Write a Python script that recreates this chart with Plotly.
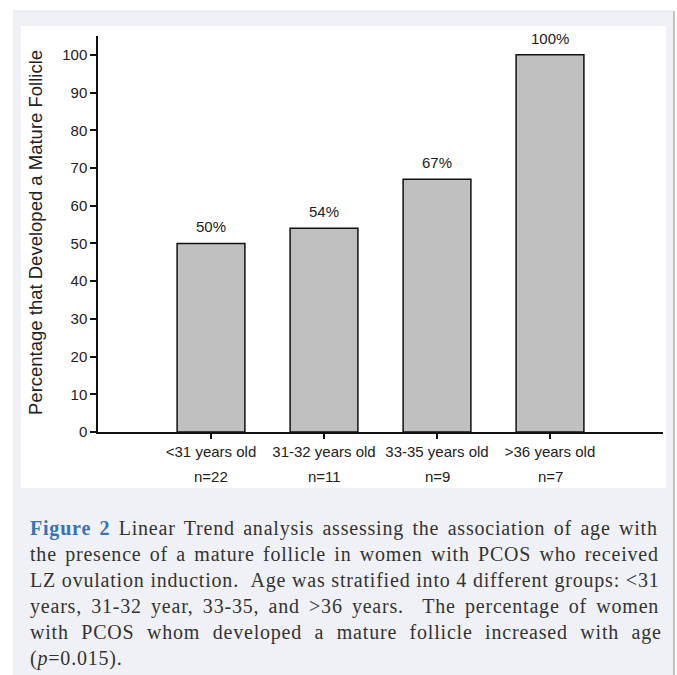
import plotly.graph_objects as go

# ---- data ----
age_groups = ["&lt;31 years old", "31-32 years old", "33-35 years old", "&gt;36 years old"]
group_n = ["n=22", "n=11", "n=9", "n=7"]
pct_mature = [50, 54, 67, 100]
pct_labels = ["50%", "54%", "67%", "100%"]
y_ticks = [0, 10, 20, 30, 40, 50, 60, 70, 80, 90, 100]
y_title = "Percentage that Developed a Mature Follicle"
caption_lines = [
    "<b><span style='color:#3473b8'>Figure 2</span></b> Linear Trend analysis assessing the association of age with",
    "the presence of a mature follicle in women with PCOS who received",
    "LZ ovulation induction. &nbsp;Age was stratified into 4 different groups: &lt;31",
    "years, 31-32 year, 33-35, and &gt;36 years. &nbsp;The percentage of women",
    "with PCOS whom developed a mature follicle increased with age",
    "(<i>p</i>=0.015).",
]
# per-line spacing used to imitate the justified caption
caption_wordspacing = [2.6, 2.5, 0, 3.4, 6.7, 0]
caption_letterspacing = 0.8

W, H = 677, 675
PL, PR, PT, PB = 98, 663, 36, 432


def px_x(px):
    return (px - PL) / (PR - PL)


def px_y(py):
    return (PB - py) / (PB - PT)


SANS = "Liberation Sans, Arial, sans-serif"
SERIF = "Liberation Serif, Times New Roman, serif"
TXT = "#222222"

fig = go.Figure()
fig.add_trace(go.Bar(
    x=list(range(len(pct_mature))),
    y=pct_mature,
    width=0.6,
    marker=dict(color="#c0c0c0", line=dict(color="#111111", width=1.5)),
    hoverinfo="skip",
))

annotations = []
for i, (v, lab) in enumerate(zip(pct_mature, pct_labels)):
    annotations.append(dict(
        x=i, y=v, xref="x", yref="y", text=lab, showarrow=False,
        xanchor="center", yanchor="bottom", yshift=6,
        font=dict(family=SANS, size=15, color=TXT),
    ))

# second line of category labels (group sizes)
for i, n in enumerate(group_n):
    annotations.append(dict(
        x=i, y=px_y(476), xref="x", yref="paper", text=n, showarrow=False,
        xanchor="center", yanchor="middle",
        font=dict(family=SANS, size=15, color=TXT),
    ))

# y-axis title
annotations.append(dict(
    x=px_x(35), y=px_y(233), xref="paper", yref="paper", text=y_title,
    showarrow=False, textangle=-90, xanchor="center", yanchor="middle",
    font=dict(family=SANS, size=18.5, color=TXT),
))

# caption
line_centers = [528, 554, 580, 606, 632, 658]
for txt, cy, ws in zip(caption_lines, line_centers, caption_wordspacing):
    annotations.append(dict(
        x=px_x(28), y=px_y(cy), xref="paper", yref="paper",
        text=f"<span style='word-spacing:{ws}px;letter-spacing:{caption_letterspacing}px'>{txt}</span>",
        showarrow=False, xanchor="left", yanchor="middle", align="left",
        font=dict(family=SERIF, size=20, color="#333333"),
    ))

shapes = [
    dict(type="rect", xref="paper", yref="paper", layer="below",
         x0=px_x(13), x1=px_x(674), y0=px_y(680), y1=px_y(11),
         fillcolor="#eff1f7", line=dict(width=0)),
    dict(type="line", xref="paper", yref="paper", layer="below",
         x0=px_x(13), x1=px_x(674), y0=px_y(11), y1=px_y(11),
         line=dict(color="#e2e5ee", width=1)),
    dict(type="line", xref="paper", yref="paper", layer="below",
         x0=px_x(674), x1=px_x(674), y0=px_y(680), y1=px_y(11),
         line=dict(color="#8c8c8c", width=1)),
    dict(type="rect", xref="paper", yref="paper", layer="below",
         x0=px_x(21), x1=px_x(666), y0=px_y(488), y1=px_y(26),
         fillcolor="#ffffff", line=dict(width=0)),
]

fig.update_layout(
    width=W, height=H,
    margin=dict(l=PL, r=W - PR, t=PT, b=H - PB, pad=0),
    paper_bgcolor="#ffffff",
    plot_bgcolor="rgba(0,0,0,0)",
    showlegend=False,
    annotations=annotations,
    shapes=shapes,
)
fig.update_xaxes(
    range=[-1, 4], tickmode="array",
    tickvals=list(range(len(age_groups))), ticktext=age_groups,
    showline=True, linecolor="#111111", linewidth=1.5,
    ticks="outside", ticklen=5, tickwidth=1.5, tickcolor="#111111",
    showgrid=False, zeroline=False,
    tickfont=dict(family=SANS, size=15, color=TXT),
    fixedrange=True,
)
fig.update_yaxes(
    range=[0, 105], tickmode="array", tickvals=y_ticks,
    showline=True, linecolor="#111111", linewidth=1.5,
    ticks="outside", ticklen=6, tickwidth=1.5, tickcolor="#111111",
    showgrid=False, zeroline=False,
    tickfont=dict(family=SANS, size=15, color=TXT),
    fixedrange=True,
)

fig.write_html(
    "out.html",
    config={"displayModeBar": False},
    post_script="document.body.style.margin='0';document.body.style.overflow='hidden';",
)
